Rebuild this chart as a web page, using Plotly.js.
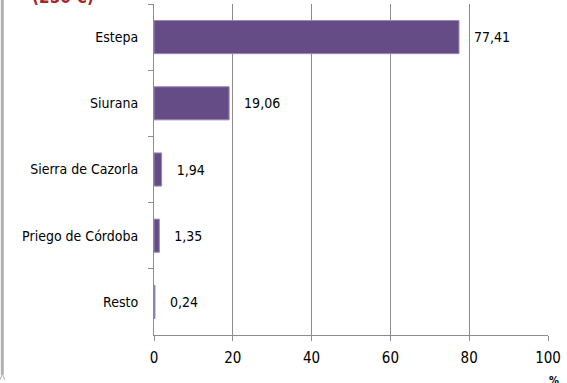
<!DOCTYPE html>
<html><head><meta charset="utf-8">
<script src="https://cdn.plot.ly/plotly-3.0.1.min.js"></script>
<style>html,body{margin:0;padding:0;background:#fff}#c{width:567px;height:383px}</style>
</head><body><div id="c"></div>
<script>
const categories = ["Estepa", "Siurana", "Sierra de Cazorla", "Priego de Córdoba", "Resto"];
const values = [77.41, 19.06, 1.94, 1.35, 0.24];
const xTicks = [0, 20, 40, 60, 80, 100];
const titleText = "(250 €)";
const unitLabel = "%";

const font = "DejaVu Sans Condensed, DejaVu Sans, sans-serif";
const trace = {
  type: "bar", orientation: "h",
  y: categories, x: values,
  width: 0.5,
  marker: {color: "#664c86", line: {color: "#9a86b6", width: 1}},
  texttemplate: "   %{x:.2f}", textposition: "outside",
  textfont: {family: font, size: 14, color: "#000"},
  cliponaxis: false, hoverinfo: "none"
};
const layout = {
  width: 567, height: 383,
  margin: {l: 154, r: 19, t: 4, b: 48},
  paper_bgcolor: "#fff", plot_bgcolor: "#fff",
  separators: ", ",
  showlegend: false,
  bargap: 0.5,
  xaxis: {range: [0, 100], tickvals: xTicks, showgrid: true, gridcolor: "#8c8c8c", gridwidth: 1,
    zeroline: false, showline: true, linecolor: "#8c8c8c", ticks: "outside", ticklen: 5, tickcolor: "#8c8c8c",
    ticklabelstandoff: 4,
    tickfont: {family: font, size: 15, color: "#000"}, fixedrange: true},
  yaxis: {type: "category", autorange: "reversed", tickson: "boundaries", ticks: "outside", ticklen: 5,
    tickcolor: "#8c8c8c", showline: true, linecolor: "#8c8c8c", showgrid: false, zeroline: false,
    ticklabelstandoff: 12,
    tickfont: {family: font, size: 14, color: "#000"}, fixedrange: true},
  annotations: [
    {text: "<b>" + titleText + "</b>", xref: "paper", yref: "paper", x: -0.315, y: 1.0, xanchor: "left", yanchor: "middle",
      yshift: 7, showarrow: false, font: {family: "DejaVu Sans Condensed, sans-serif", size: 17, color: "#a3282a"}},
    {text: "<b>" + unitLabel + "</b>", xref: "paper", yref: "paper", x: 1.0, y: 0, xanchor: "center", yanchor: "top",
      xshift: 6, yshift: -37, showarrow: false, font: {family: font, size: 11, color: "#000"}}
  ],
  shapes: [
    {type: "line", xref: "paper", yref: "paper", x0: -0.385, x1: -0.385, y0: 1.02, y1: -0.12, line: {color: "#b0b0b0", width: 3}},
    {type: "line", xref: "paper", yref: "paper", x0: -0.385, x1: -0.391, y0: -0.118, y1: -0.135, line: {color: "#b0b0b0", width: 1}},
    {type: "line", xref: "paper", yref: "paper", x0: -0.385, x1: -0.379, y0: -0.118, y1: -0.135, line: {color: "#b0b0b0", width: 1}}
  ]
};
Plotly.newPlot("c", [trace], layout, {displayModeBar: false, staticPlot: true});
</script></body></html>
